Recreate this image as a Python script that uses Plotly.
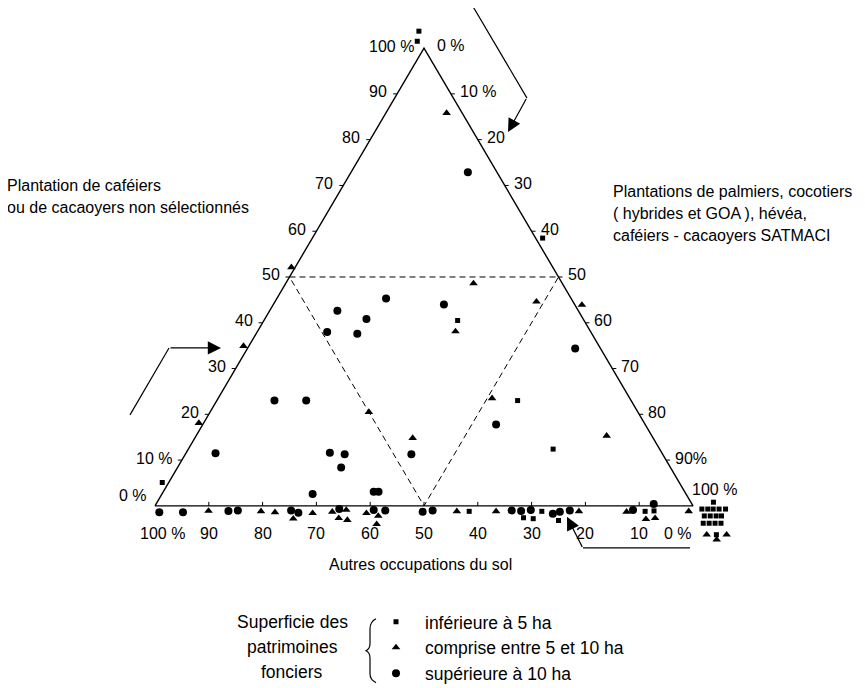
import plotly.graph_objects as go

# ---------------- data (percent) ----------------
# a = "Plantation de caféiers ou de cacaoyers non sélectionnés"
# c = "Plantations de palmiers, cocotiers, hévéa, caféiers-cacaoyers SATMACI"
# b = "Autres occupations du sol" = 100 - a - c
sq_cafe = [103.7, 101.5, 58.5, 40.5, 23.0, 12.4, 5.1,
           -1.2, -2.6, -2.8, -1.2, -3.2, -1.2, -1.1,
           0.8, -0.7, -0.7, -0.7, -0.7, -0.7, -2.2, -2.2, -2.2, -2.2,
           -3.8, -3.8, -3.8, -3.8, -6.3]
sq_palm = [-2.8, -2.0, 42.8, 36.0, 55.9, 67.8, -1.2,
           59.0, 69.8, 71.7, 72.5, 76.6, 91.7, 93.3,
           103.4, 102.0, 103.1, 104.1, 105.2, 106.4, 103.2, 104.3, 105.4, 106.4,
           103.8, 104.9, 106.0, 107.1, 107.5]

tr_cafe = [85.8, 48.6, 38.1, 44.6, 43.9, 23.5, 15.3, 52.1, 34.9, 18.1, 20.5, 14.8,
           -1.1, -1.2, -1.4, -2.8, -1.6, -1.3, -0.9, -2.7, -3.1, -1.6, -2.2, -4.0,
           -1.2, -1.2, -1.2, -1.3, -2.9, -2.7, -1.2, -6.3, -6.3, -7.4]
tr_palm = [11.3, 34.9, 36.8, 48.6, 57.4, 50.9, 76.3, -0.7, -1.0, -0.9, 29.5, 40.5,
           10.5, 20.3, 23.0, 27.1, 30.1, 33.6, 36.0, 35.5, 37.3, 40.1, 42.6, 43.2,
           56.7, 64.0, 79.4, 88.3, 92.7, 94.3, 99.8, 105.7, 109.4, 108.1]

ci_cafe = [72.9, 45.3, 42.6, 40.8, 38.0, 37.6, 44.0, 34.4, 23.0, 23.0, 11.5, 11.6,
           11.3, 8.4, 11.3, 17.8, 2.6, 3.1, 3.1,
           -1.4, -1.4, -1.1, -1.0, -1.0, -1.5, -0.7, -0.9, -1.0, -1.3, -1.0, -1.0,
           -1.1, -0.9, -1.7, -1.3, -1.0, -0.9, 0.4]
ci_palm = [21.7, 20.3, 12.6, 18.9, 13.0, 18.8, 31.7, 60.9, 10.7, 16.6, 5.5, 26.7,
           29.6, 30.4, 42.0, 54.5, 28.0, 39.1, 40.0,
           1.5, 5.9, 14.2, 15.9, 25.8, 27.4, 34.6, 41.1, 43.3, 50.4, 52.1, 66.8,
           68.6, 70.3, 74.8, 75.9, 77.6, 89.3, 92.5]

tick_vals = [0, 10, 20, 30, 40, 50, 60, 70, 80, 90, 100]
a_text = ["0 %", "10 %", "20", "30", "40", "50", "60", "70", "80", "90", "100 %"]
b_text = ["0 %", "10", "20", "30", "40", "50", "60", "70", "80", "90", "100 %"]
c_text = ["0 %", "10 %", "20", "30", "40", "50", "60", "70", "80", "90%", "100 %"]

series_names = ["inférieure à 5 ha", "comprise entre 5 et 10 ha", "supérieure à 10 ha"]

# ---------------- helpers ----------------
FONT = "Liberation Sans, Arial, sans-serif"
W, H = 865, 688          # window
K = 0.983                # vertical scale between page and picture
PAGE = 8                 # page margin around the figure
FIG_W = W - 2 * PAGE
FIG_H = round(H / K) - 2 * PAGE
# picture-pixel frame of the triangle: bottom-left corner, pixels per percent
X0_PX, Y0_PX, SX, SY = 155.0, 506.0, 5.38, 4.58


def proj(a, c):
    """ternary (a = top, c = bottom-right) -> cartesian data coords"""
    return c + a / 2.0, a


def px(x):
    return (x - PAGE) / FIG_W


def py(y):
    return 1 - (y / K - PAGE) / FIG_H


def xy(cafe, palm):
    pts = [proj(a, c) for a, c in zip(cafe, palm)]
    return [p[0] for p in pts], [p[1] for p in pts]


fig = go.Figure()

# outer triangle
corners = [(0, 0), (0, 100), (100, 0), (0, 0)]  # (a, c)
tx, ty = xy([p[0] for p in corners], [p[1] for p in corners])
fig.add_trace(go.Scatter(x=tx, y=ty, mode="lines", line=dict(color="black", width=1.4),
                         showlegend=False, hoverinfo="skip"))

# dashed medial triangle
mids = [(50, 0), (50, 50), (0, 50), (50, 0)]
mx, my = xy([p[0] for p in mids], [p[1] for p in mids])
fig.add_trace(go.Scatter(x=mx, y=my, mode="lines",
                         line=dict(color="black", width=1, dash="6px,4px"),
                         showlegend=False, hoverinfo="skip"))

# data series
for (cafe, palm), name, sym, size in [((sq_cafe, sq_palm), series_names[0], "square", 5),
                                       ((tr_cafe, tr_palm), series_names[1], "triangle-up", 7.5),
                                       ((ci_cafe, ci_palm), series_names[2], "circle", 8)]:
    x, y = xy(cafe, palm)
    fig.add_trace(go.Scatter(
        x=x, y=y, mode="markers", name=name,
        customdata=[[a, round(100 - a - c, 1), c] for a, c in zip(cafe, palm)],
        hovertemplate="caféiers/cacaoyers: %{customdata[0]}%<br>autres: %{customdata[1]}%"
                      "<br>palmiers...: %{customdata[2]}%<extra>" + name + "</extra>",
        marker=dict(symbol=sym, size=size, color="black", line=dict(width=0))))

# ---------------- axes (hidden, pixel-calibrated) ----------------
x0f = X0_PX - PAGE
y0f = Y0_PX / K - PAGE
syf = SY / K
fig.update_xaxes(visible=False, range=[-x0f / SX, (FIG_W - x0f) / SX], fixedrange=True,
                 domain=[0, 1])
fig.update_yaxes(visible=False, range=[(y0f - FIG_H) / syf, y0f / syf], fixedrange=True,
                 domain=[0, 1])

fig.update_layout(
    width=FIG_W, height=FIG_H, autosize=False,
    margin=dict(l=0, r=0, t=0, b=0),
    paper_bgcolor="white", plot_bgcolor="white",
    legend=dict(x=px(367), y=py(604), xanchor="left", yanchor="top",
                font=dict(family=FONT, size=17.5, color="black"), itemwidth=48,
                bgcolor="rgba(0,0,0,0)", borderwidth=0, tracegroupgap=0),
    font=dict(family=FONT, color="black"),
)


def tick_label(text, x, y, xanchor, dx, dy, size=16):
    fig.add_annotation(text=text, x=x, y=y, xref="x", yref="y", xanchor=xanchor,
                       yanchor="middle", xshift=dx, yshift=dy / K, showarrow=False,
                       font=dict(family=FONT, size=size, color="black"))


def tick_mark(x, y, x0, x1, y0, y1):
    fig.add_shape(type="line", xref="x", yref="y", xsizemode="pixel", ysizemode="pixel",
                  xanchor=x, yanchor=y, x0=x0, x1=x1, y0=y0, y1=y1,
                  line=dict(color="black", width=1))


for v, ta, tb, tc in zip(tick_vals, a_text, b_text, c_text):
    # left side: a axis (0 bottom-left -> 100 apex)
    x, y = proj(v, 0)
    tick_label(ta, x, y, "right", -6 if v == 0 else -8, 10 if v == 0 else 2)
    if 0 < v < 100:
        tick_mark(x, y, -4, 0, 0, 0)
    # right side: c axis (0 apex -> 100 bottom-right)
    x, y = proj(100 - v, v)
    if v == 100:
        tick_label(tc, x, y, "left", -3, 16)
    elif v == 0:
        tick_label(tc, x, y, "left", 11, 3)
    else:
        tick_label(tc, x, y, "left", 7, 2)
    if 0 < v < 100:
        tick_mark(x, y, 0, 4, 0, 0)
    # bottom: b axis (100 bottom-left -> 0 bottom-right)
    x, y = proj(0, 100 - v)
    if v == 100:
        tick_label(tb, x, y, "left", -17, -27)
    elif v == 0:
        tick_label(tb, x, y, "right", 1, -27)
    else:
        tick_label(tb, x, y, "center", 0, -27)
    if 0 < v < 100:
        tick_mark(x, y, 0, 0, 0, 4)


# ---------------- text ----------------
def label(text, x, y, xanchor="left", size=16):
    fig.add_annotation(text=text, x=px(x), y=py(y), xref="paper", yref="paper",
                       xanchor=xanchor, yanchor="middle", showarrow=False,
                       font=dict(family=FONT, size=size, color="black"))


label("Plantation de caféiers", 5, 185)
label("ou de cacaoyers non sélectionnés", 5, 207)
label("Plantations de palmiers, cocotiers", 611, 191)
label("( hybrides et GOA ), hévéa,", 611, 213)
label("caféiers - cacaoyers SATMACI", 611, 235)
label("Autres occupations du sol", 420, 565, xanchor="center")
label("Superficie des", 292, 622, xanchor="center", size=17.5)
label("patrimoines", 292, 647, xanchor="center", size=17.5)
label("fonciers", 292, 672, xanchor="center", size=17.5)


# ---------------- arrows ----------------
def seg(x0, y0, x1, y1):
    fig.add_shape(type="line", xref="paper", yref="paper",
                  x0=px(x0), y0=py(y0), x1=px(x1), y1=py(y1),
                  line=dict(color="black", width=1.2))


def arrow(xt, yt, xtip, ytip):
    fig.add_annotation(x=px(xtip), y=py(ytip), xref="paper", yref="paper",
                       ax=xt - xtip, ay=(yt - ytip) / K, axref="pixel", ayref="pixel",
                       showarrow=True, arrowhead=2, arrowsize=2.2, arrowwidth=1.2,
                       arrowcolor="black", text="")


seg(471, 3, 527, 98)
arrow(527, 98, 508, 132)
seg(130, 415, 169, 348)
arrow(169, 348, 221, 348)
seg(583, 548, 690, 548)
arrow(583, 548, 567, 517)

# legend brace
pts = [(376, 619), (370, 622), (370, 629), (370, 644), (370, 649), (366, 651),
       (370, 653), (370, 658), (370, 674), (370, 680), (376, 683)]
path = "M {},{} Q {},{} {},{} L {},{} Q {},{} {},{} Q {},{} {},{} L {},{} Q {},{} {},{}".format(
    *[v for p in pts for v in (px(p[0]), py(p[1]))])
fig.add_shape(type="path", xref="paper", yref="paper", path=path,
              line=dict(color="black", width=1.2))

fig.write_html("out.html")
